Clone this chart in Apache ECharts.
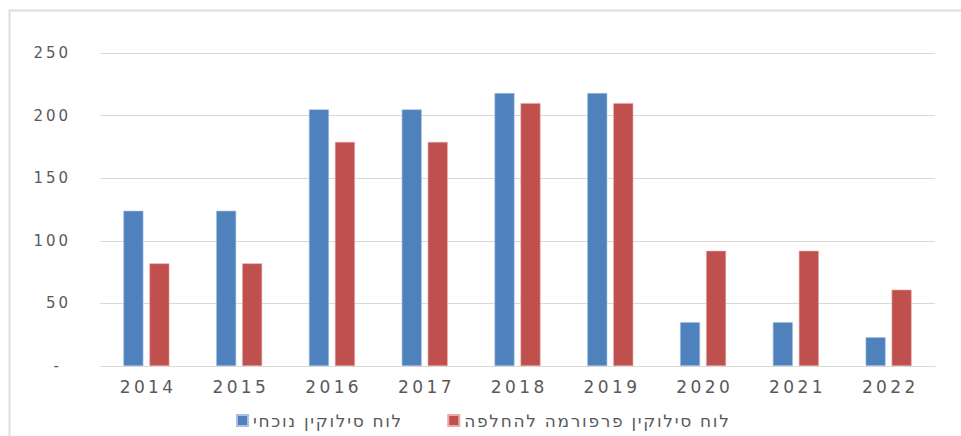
<!DOCTYPE html>
<html>
<head>
<meta charset="utf-8">
<script src="https://cdn.jsdelivr.net/npm/echarts@6/dist/echarts.min.js"></script>
<style>
html,body{margin:0;padding:0;background:#fff;}
#c{width:961px;height:436px;}
</style>
</head>
<body>
<div id="c"></div>
<script>
const categories = ['2014','2015','2016','2017','2018','2019','2020','2021','2022'];
const seriesNames = ['לוח סילוקין נוכחי', 'לוח סילוקין פרפורמה להחלפה'];
const currentValues = [124, 124, 205, 205, 218, 218, 35, 35, 23];
const proformaValues = [82, 82, 179, 179, 210, 210, 92, 92, 61];
const yTicks = [0, 50, 100, 150, 200, 250];

const spaced = s => String(s).split('').join('\u2009');
const hairSpaced = s => String(s).split('').join('\u200A');

const chart = echarts.init(document.getElementById('c'), null, {renderer: 'svg'});
chart.setOption({
  animation: false,
  backgroundColor: '#ffffff',
  graphic: [{
    type: 'polyline',
    shape: {points: [[9.5, 436], [9.5, 10.5], [961, 10.5]]},
    style: {fill: 'none', stroke: '#dedede', lineWidth: 2},
    silent: true
  }],
  grid: {left: 100, right: 26, top: 53, bottom: 70, containLabel: false},
  legend: {
    data: seriesNames,
    left: 231,
    top: 407,
    itemWidth: 11,
    itemHeight: 11,
    itemGap: 46,
    icon: 'rect',
    formatter: name => hairSpaced(name),
    textStyle: {color: '#595959', fontSize: 17, fontFamily: 'DejaVu Sans'}
  },
  xAxis: {
    type: 'category',
    data: categories,
    axisLine: {lineStyle: {color: '#d9d9d9', width: 1}},
    axisTick: {show: false},
    axisLabel: {
      color: '#595959', fontSize: 17, fontFamily: 'DejaVu Sans', margin: 12,
      formatter: v => spaced(v)
    }
  },
  yAxis: {
    type: 'value',
    min: yTicks[0],
    max: yTicks[yTicks.length - 1],
    interval: 50,
    axisLine: {show: false},
    axisTick: {show: false},
    splitLine: {lineStyle: {color: '#d9d9d9', width: 1}},
    axisLabel: {
      color: '#595959', fontSize: 15, fontFamily: 'DejaVu Sans', margin: 32,
      formatter: v => v === 0 ? '-\u2009\u2009\u2009' : spaced(v)
    }
  },
  series: [
    {
      name: seriesNames[0],
      type: 'bar',
      data: currentValues,
      barWidth: 20,
      barGap: '30%',
      itemStyle: {color: '#4f81bd', borderColor: '#a9c0e0', borderWidth: 0.6}
    },
    {
      name: seriesNames[1],
      type: 'bar',
      data: proformaValues,
      barWidth: 20,
      itemStyle: {color: '#c0504d', borderColor: '#e6aaa8', borderWidth: 0.6}
    }
  ]
});
</script>
</body>
</html>
